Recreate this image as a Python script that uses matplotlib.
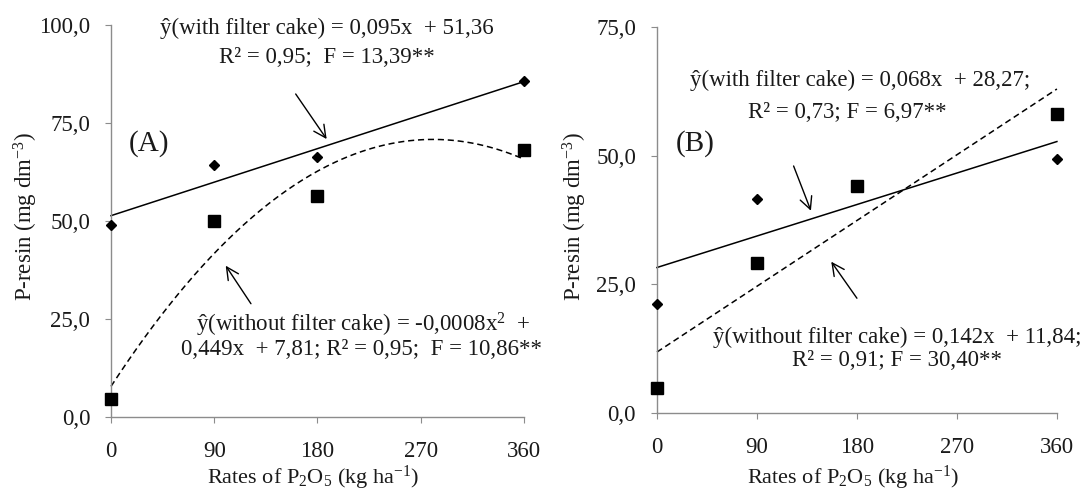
import numpy as np
import matplotlib
matplotlib.use("Agg")
import matplotlib.pyplot as plt
from matplotlib.ticker import FuncFormatter

plt.rcParams['font.family'] = ['Liberation Serif', 'DejaVu Serif']
plt.rcParams['mathtext.default'] = 'regular'

# data
rates = [0, 90, 180, 360]
a_with = [49.0, 64.3, 66.2, 85.7]
a_without = [4.7, 49.9, 56.3, 68.0]
b_with = [21.1, 41.6, 44.0, 49.3]
b_without = [4.9, 29.1, 44.2, 58.2]

# regression coefficients printed on the chart (highest power first)
a_with_fit = [0.095, 51.36]
a_without_fit = [-0.0008, 0.449, 7.81]
b_with_fit = [0.068, 28.27]
b_without_fit = [0.142, 11.84]

x_ticks = [0, 90, 180, 270, 360]
a_yticks = [0, 25, 50, 75, 100]
b_yticks = [0, 25, 50, 75]

FS = 16.5
TXT = '#1a1a1a'
comma = FuncFormatter(lambda v, p: f"{v:.1f}".replace('.', ','))


def style_axes(ax, ymax, yticks):
    ax.set_xlim(0, 360)
    ax.set_ylim(0, ymax)
    ax.set_xticks(x_ticks)
    ax.set_yticks(yticks)
    ax.yaxis.set_major_formatter(comma)
    for s in ['top', 'right']:
        ax.spines[s].set_visible(False)
    for s in ['left', 'bottom']:
        ax.spines[s].set_color('#8c8c8c')
        ax.spines[s].set_linewidth(1.0)
    ax.tick_params(axis='both', direction='out', length=4, color='#8c8c8c',
                   labelsize=FS, labelcolor=TXT)
    ax.tick_params(axis='y', pad=11)
    ax.tick_params(axis='x', pad=13)
    ax.set_ylabel("P-resin (mg dm$^{-3}$)", fontsize=FS, color=TXT)
    ax.set_xlabel("Rates of P$_2$O$_5$ (kg ha$^{-1}$)", fontsize=16, color=TXT)


def draw_panel(ax, with_vals, without_vals, with_fit, without_fit):
    xs = np.linspace(0, 360, 200)
    ax.plot(xs, np.polyval(with_fit, xs), color='black', lw=1.1, clip_on=False)
    ax.plot(xs, np.polyval(without_fit, xs), color='black', lw=1.1,
            linestyle=(0, (4, 2.5)), clip_on=False)
    ax.plot(rates, with_vals, linestyle='none', marker='D', ms=5.3,
            color='black', clip_on=False, zorder=4)
    ax.plot(rates, without_vals, linestyle='none', marker='s', ms=9,
            color='black', clip_on=False, zorder=5)


def arrow(ax, tail, head):
    ax.annotate('', xy=head, xytext=tail,
                arrowprops=dict(arrowstyle='->', color='black', lw=1.0,
                                mutation_scale=22, shrinkA=0, shrinkB=0))


def note(ax, x, y, s, size=FS):
    ax.text(x, y, s, ha='center', va='center', fontsize=size, color=TXT,
            clip_on=False)


fig = plt.figure(figsize=(10.83, 4.91), dpi=100)

# panel A
axA = fig.add_axes([0.1025, 0.1507, 0.3813, 0.7984])
style_axes(axA, 100, a_yticks)
draw_panel(axA, a_with, a_without, a_with_fit, a_without_fit)
axA.yaxis.set_label_coords(-0.172, 0.51)
axA.xaxis.set_label_coords(0.49, -0.12)
note(axA, 188, 99.2, "ŷ(with filter cake) = 0,095x  + 51,36")
note(axA, 188, 91.6, "R² = 0,95;  F = 13,39**")
note(axA, 33, 69.8, "(A)", size=21)
note(axA, 219.7, 23.5, "ŷ(without filter cake) = -0,0008x$^2$  +")
note(axA, 218, 17.1, "0,449x  + 7,81; R² = 0,95;  F = 10,86**")
arrow(axA, (161, 82.4), (188, 70.9))
arrow(axA, (122, 28.9), (100, 38.6))

# panel B
axB = fig.add_axes([0.6066, 0.1589, 0.3693, 0.786])
style_axes(axB, 75, b_yticks)
draw_panel(axB, b_with, b_without, b_with_fit, b_without_fit)
axB.yaxis.set_label_coords(-0.17, 0.509)
axB.xaxis.set_label_coords(0.49, -0.132)
note(axB, 182.7, 64.6, "ŷ(with filter cake) = 0,068x  + 28,27;")
note(axB, 171, 58.3, "R² = 0,73; F = 6,97**")
note(axB, 34, 52.3, "(B)", size=21)
note(axB, 216, 14.6, "ŷ(without filter cake) = 0,142x  + 11,84;")
note(axB, 216, 10.2, "R² = 0,91; F = 30,40**")
arrow(axB, (123, 48.0), (138.6, 39.3))
arrow(axB, (180, 22.3), (156.9, 29.4))

fig.savefig("out.png", dpi=100)
